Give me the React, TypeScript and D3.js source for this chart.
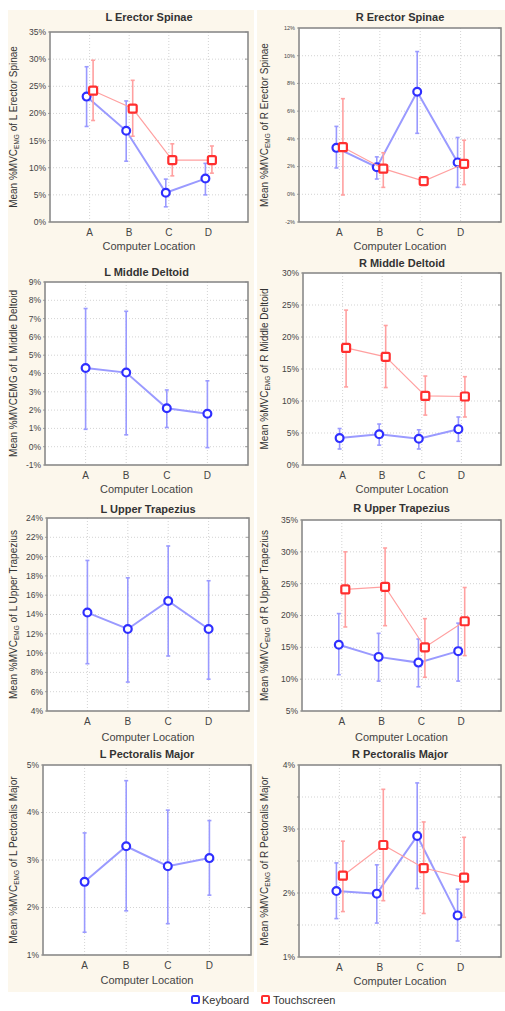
import * as d3 from "d3";

// categories on the x axis
const locations = ["A", "B", "C", "D"];

// each entry: [mean, lower, upper] in % MVC
const lesKeyboard = [[23.1, 17.6, 28.6], [16.8, 11.2, 22.3], [5.4, 2.8, 7.9], [8.0, 5.0, 10.8]];
const lesTouch = [[24.2, 18.7, 29.8], [20.9, 15.8, 26.1], [11.4, 8.5, 14.4], [11.4, 9.0, 14.0]];

const resKeyboard = [[3.35, 1.9, 4.9], [1.95, 1.1, 2.7], [7.4, 4.4, 10.3], [2.3, 0.5, 4.1]];
const resTouch = [[3.4, -0.05, 6.9], [1.85, 0.5, 3.0], [0.95, 0.85, 1.05], [2.2, 0.7, 3.9]];

const lmdKeyboard = [[4.3, 0.95, 7.55], [4.05, 0.65, 7.4], [2.1, 1.05, 3.1], [1.8, -0.05, 3.6]];

const rmdKeyboard = [[4.2, 2.5, 5.7], [4.8, 3.1, 6.4], [4.1, 2.5, 5.5], [5.6, 3.7, 7.5]];
const rmdTouch = [[18.3, 12.2, 24.2], [16.9, 12.1, 21.8], [10.8, 7.8, 13.9], [10.7, 7.5, 13.8]];

const lutKeyboard = [[14.2, 8.9, 19.6], [12.5, 7.0, 17.8], [15.4, 9.7, 21.1], [12.5, 7.3, 17.5]];

const rutKeyboard = [[15.4, 10.7, 20.3], [13.5, 9.7, 17.2], [12.6, 8.8, 16.3], [14.4, 9.7, 18.8]];
const rutTouch = [[24.1, 18.2, 30.0], [24.5, 18.4, 30.6], [15.0, 10.3, 19.5], [19.1, 13.7, 24.4]];

const lpmKeyboard = [[2.54, 1.48, 3.57], [3.29, 1.93, 4.67], [2.87, 1.66, 4.05], [3.04, 2.26, 3.83]];

const rpmKeyboard = [[2.03, 1.6, 2.47], [1.99, 1.53, 2.44], [2.89, 2.07, 3.72], [1.65, 1.25, 2.06]];
const rpmTouch = [[2.27, 1.71, 2.81], [2.75, 1.88, 3.62], [2.39, 1.68, 3.11], [2.24, 1.62, 2.87]];

const BLUE = "#2f2fff";
const BLUE_LIGHT = "#9a9aff";
const RED = "#ff2f2f";
const RED_LIGHT = "#ffa0a0";

type Row = number[];
type Panel = {
  title: string;
  muscle: string;
  sub: boolean;
  domain: [number, number];
  step: number;
  grid: number;
  x0: number;
  x1: number;
  y0: number;
  y1: number;
  titleY: number;
  labelY: number;
  tickFont: number;
  keyboard: Row[];
  touch?: Row[];
};

const panels: Panel[] = [
  { title: "L Erector Spinae", muscle: "L Erector Spinae", sub: true, domain: [0, 35], step: 5, grid: 5,
    x0: 50, x1: 248, y0: 32, y1: 222, titleY: 21, labelY: 250, tickFont: 8.5, keyboard: lesKeyboard, touch: lesTouch },
  { title: "R Erector Spinae", muscle: "R Erector Spinae", sub: true, domain: [-2, 12], step: 2, grid: 2,
    x0: 299, x1: 501, y0: 28, y1: 222, titleY: 21, labelY: 250, tickFont: 5.5, keyboard: resKeyboard, touch: resTouch },
  { title: "L Middle Deltoid", muscle: "L Middle Deltoid", sub: false, domain: [-1, 9], step: 1, grid: 1,
    x0: 45, x1: 248, y0: 282, y1: 465, titleY: 276, labelY: 493, tickFont: 8.5, keyboard: lmdKeyboard },
  { title: "R Middle Deltoid", muscle: "R Middle Deltoid", sub: true, domain: [0, 30], step: 5, grid: 5,
    x0: 303, x1: 501, y0: 273, y1: 465, titleY: 267, labelY: 493, tickFont: 8.5, keyboard: rmdKeyboard, touch: rmdTouch },
  { title: "L Upper Trapezius", muscle: "L Upper Trapezius", sub: true, domain: [4, 24], step: 2, grid: 2,
    x0: 47, x1: 249, y0: 518, y1: 711, titleY: 513, labelY: 741, tickFont: 8.5, keyboard: lutKeyboard },
  { title: "R Upper Trapezius", muscle: "R Upper Trapezius", sub: true, domain: [5, 35], step: 5, grid: 5,
    x0: 302, x1: 501, y0: 520, y1: 711, titleY: 512, labelY: 741, tickFont: 8.5, keyboard: rutKeyboard, touch: rutTouch },
  { title: "L Pectoralis Major", muscle: "L Pectoralis Major", sub: true, domain: [1, 5], step: 1, grid: 1,
    x0: 43, x1: 251, y0: 765, y1: 955, titleY: 758, labelY: 984, tickFont: 8.5, keyboard: lpmKeyboard },
  { title: "R Pectoralis Major", muscle: "R Pectoralis Major", sub: true, domain: [1, 4], step: 1, grid: 0.5,
    x0: 299, x1: 501, y0: 765, y1: 957, titleY: 758, labelY: 985, tickFont: 8.5, keyboard: rpmKeyboard, touch: rpmTouch },
];

const font = "Liberation Sans, Arial, sans-serif";

function range(a: number, b: number, s: number) {
  const out: number[] = [];
  for (let v = a; v <= b + 1e-9; v += s) out.push(+v.toFixed(3));
  return out;
}

function Series({ rows, x, y, off, color, light, square, lineW }: any) {
  const pts = rows.map((r: Row, i: number) => [x(i + 1) + off, y(r[0])] as [number, number]);
  const line = d3.line()(pts) || "";
  return (
    <g>
      {rows.map((r: Row, i: number) => {
        const cx = x(i + 1) + off;
        return (
          <g key={i} stroke={light} strokeWidth={1.6}>
            <line x1={cx} x2={cx} y1={y(r[1])} y2={y(r[2])} />
            <line x1={cx - 2} x2={cx + 2} y1={y(r[1])} y2={y(r[1])} />
            <line x1={cx - 2} x2={cx + 2} y1={y(r[2])} y2={y(r[2])} />
          </g>
        );
      })}
      <path d={line} fill="none" stroke={light} strokeWidth={lineW} />
      {pts.map(([px, py]: [number, number], i: number) =>
        square ? (
          <rect key={i} x={px - 4} y={py - 4} width={8} height={8} rx={1.5} fill="#fff" stroke={color} strokeWidth={2.2} />
        ) : (
          <circle key={i} cx={px} cy={py} r={3.9} fill="#fff" stroke={color} strokeWidth={2.2} />
        )
      )}
    </g>
  );
}

function ChartPanel({ p, labelX }: { p: Panel; labelX: number }) {
  const x = d3.scaleLinear().domain([0, 5]).range([p.x0, p.x1]);
  const y = d3.scaleLinear().domain(p.domain).range([p.y1, p.y0]);
  const ticks = range(p.domain[0], p.domain[1], p.step);
  const grid = range(p.domain[0], p.domain[1], p.grid);
  const two = !!p.touch;
  const cx = (p.x0 + p.x1) / 2;
  const cy = (p.y0 + p.y1) / 2;
  return (
    <g fontFamily={font}>
      <rect x={p.x0} y={p.y0} width={p.x1 - p.x0} height={p.y1 - p.y0} fill="#fff" />
      {grid.slice(1, -1).map((v) => (
        <line key={"h" + v} x1={p.x0} x2={p.x1} y1={y(v)} y2={y(v)} stroke="#c8c8c8" strokeWidth={0.8} strokeDasharray="1,2" />
      ))}
      {locations.map((c, i) => (
        <line key={"v" + c} x1={x(i + 1)} x2={x(i + 1)} y1={p.y0} y2={p.y1} stroke="#c8c8c8" strokeWidth={0.8} strokeDasharray="1,2" />
      ))}
      {grid.map((v) => (
        <g key={"t" + v} stroke="#888" strokeWidth={0.8}>
          <line x1={p.x1 - 3} x2={p.x1} y1={y(v)} y2={y(v)} />
          <line x1={p.x0 - 2} x2={p.x0} y1={y(v)} y2={y(v)} />
        </g>
      ))}
      {ticks.map((v) => (
        <text key={"l" + v} x={p.x0 - 4} y={y(v)} dy="0.35em" textAnchor="end" fontSize={p.tickFont} fill="#444">
          {v + "%"}
        </text>
      ))}
      {locations.map((c, i) => (
        <text key={"x" + c} x={x(i + 1)} y={p.y1 + 14} textAnchor="middle" fontSize={10} fill="#444">
          {c}
        </text>
      ))}
      <Series rows={p.keyboard} x={x} y={y} off={two ? -3 : 0} color={BLUE} light={BLUE_LIGHT} square={false} lineW={2} />
      {p.touch && <Series rows={p.touch} x={x} y={y} off={3.5} color={RED} light={RED_LIGHT} square={true} lineW={1.1} />}
      <rect x={p.x0} y={p.y0} width={p.x1 - p.x0} height={p.y1 - p.y0} fill="none" stroke="#8a8a8a" strokeWidth={1.6} />
      <text x={cx} y={p.titleY} textAnchor="middle" fontSize={11} fontWeight="bold" fill="#333">
        {p.title}
      </text>
      <text x={cx} y={p.labelY} textAnchor="middle" fontSize={11} fill="#444">
        Computer Location
      </text>
      <text transform={`translate(${labelX},${cy}) rotate(-90)`} textAnchor="middle" fontSize={10} fill="#333">
        {p.sub ? (
          <>
            Mean %MVC<tspan fontSize={6.5} dy={2}>EMG</tspan>
            <tspan dy={-2}>{" of " + p.muscle}</tspan>
          </>
        ) : (
          "Mean %MVCEMG of " + p.muscle
        )}
      </text>
    </g>
  );
}

export default function App() {
  return (
    <svg width={505} height={1011} style={{ position: "absolute", left: 0, top: 0, background: "#fff" }}>
      <rect x={8} y={10} width={246} height={982} fill="#fcf7ec" />
      <rect x={257} y={10} width={248} height={982} fill="#fcf7ec" />
      {panels.map((p, i) => (
        <ChartPanel key={p.title} p={p} labelX={i % 2 === 0 ? 17 : 268} />
      ))}
      <g fontFamily={font} fontSize={11} fill="#333">
        <rect x={192} y={996} width={7} height={7} rx={1.5} fill="#fff" stroke={BLUE} strokeWidth={2} />
        <text x={202} y={1003.5}>Keyboard</text>
        <rect x={262} y={996} width={7} height={7} rx={1} fill="#fff" stroke={RED} strokeWidth={2} />
        <text x={273} y={1003.5}>Touchscreen</text>
      </g>
    </svg>
  );
}
